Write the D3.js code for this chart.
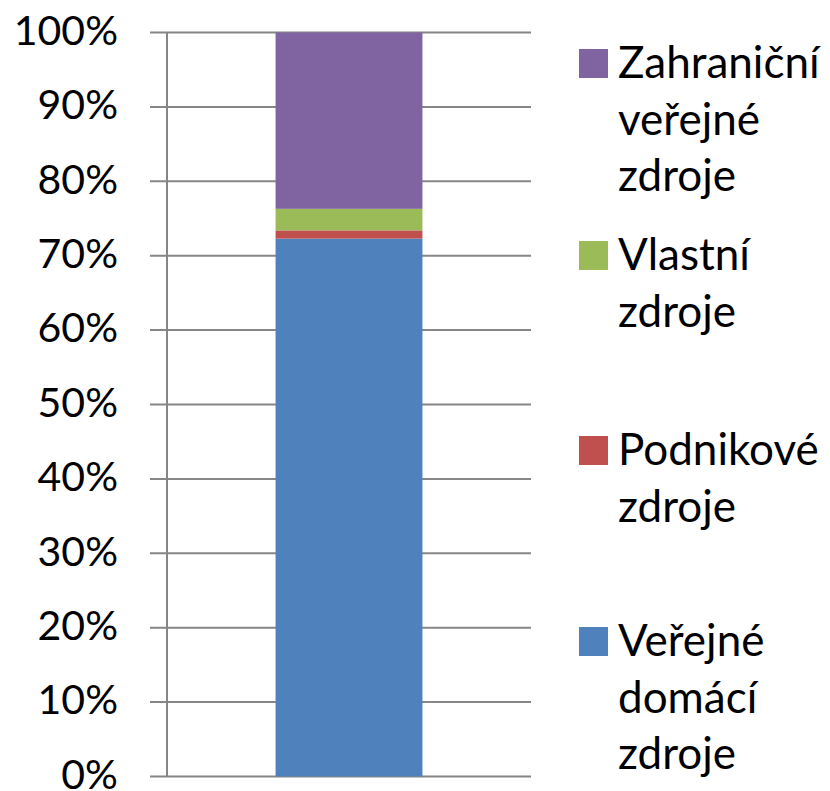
<!DOCTYPE html>
<html>
<head>
<meta charset="utf-8">
<script src="https://cdn.jsdelivr.net/npm/d3@7"></script>
<style>
  body { margin: 0; background: #fff; }
  svg { display: block; }
  text { font-family: Lato, "Open Sans", sans-serif; fill: #000; }
</style>
</head>
<body>
<div id="chart"></div>
<script>
// Series shares of a single stacked 100% bar (bottom to top)
const categories = ["Veřejné domácí zdroje", "Podnikové zdroje", "Vlastní zdroje", "Zahraniční veřejné zdroje"];
const values = [0.723, 0.011, 0.029, 0.237];
const colors = ["#4F81BD", "#C0504D", "#9BBB59", "#8064A2"];
const legendLines = [
    ["Veřejné", "domácí", "zdroje"],
    ["Podnikové", "zdroje"],
    ["Vlastní", "zdroje"],
    ["Zahraniční", "veřejné", "zdroje"]
];
const tickValues = [0, 0.1, 0.2, 0.3, 0.4, 0.5, 0.6, 0.7, 0.8, 0.9, 1];

const config = {
    width: 830,
    height: 791,
    margin: { top: 32.5, right: 299, bottom: 14.5, left: 167 }
};

const innerW = config.width - config.margin.left - config.margin.right;
const innerH = config.height - config.margin.top - config.margin.bottom;

const svg = d3.select("#chart").append("svg")
    .attr("width", config.width)
    .attr("height", config.height);

const chart = svg.append("g")
    .attr("transform", `translate(${config.margin.left},${config.margin.top})`);

const yScale = d3.scaleLinear().domain([0, 1]).range([innerH, 0]);
const xScale = d3.scaleBand().domain(["all"]).range([0, innerW]).padding(0.425);

// Gridlines with outside tick marks
chart.selectAll(".grid")
    .data(tickValues)
    .join("line")
    .attr("class", "grid")
    .attr("x1", -17)
    .attr("x2", innerW)
    .attr("y1", d => yScale(d))
    .attr("y2", d => yScale(d))
    .attr("stroke", "#868686")
    .attr("stroke-width", 2);

// Stacked segments
const row = {};
categories.forEach((c, i) => row[c] = values[i]);
const stacked = d3.stack().keys(categories)([row]);

chart.selectAll(".segment")
    .data(stacked)
    .join("rect")
    .attr("class", "segment")
    .attr("x", xScale("all"))
    .attr("width", xScale.bandwidth())
    .attr("y", d => yScale(d[0][1]))
    .attr("height", d => yScale(d[0][0]) - yScale(d[0][1]))
    .attr("fill", (d, i) => colors[i]);

// Vertical axis line
chart.append("line")
    .attr("x1", 0).attr("x2", 0)
    .attr("y1", 0).attr("y2", innerH)
    .attr("stroke", "#868686")
    .attr("stroke-width", 2);

// Y tick labels
chart.selectAll(".tick-label")
    .data(tickValues)
    .join("text")
    .attr("class", "tick-label")
    .attr("x", -49)
    .attr("y", d => yScale(d))
    .attr("dy", "0.3em")
    .attr("text-anchor", "end")
    .style("font-size", "41px")
    .text(d3.format(".0%"));

// Legend (top item is the last series)
const legendTops = [627, 436, 241, 49];
const lineH = 56.5;
const legend = svg.append("g").attr("class", "legend");
const items = legend.selectAll(".item")
    .data(categories)
    .join("g")
    .attr("class", "item")
    .attr("transform", (d, i) => `translate(579,${legendTops[i]})`);

items.append("rect")
    .attr("width", 29)
    .attr("height", 29)
    .attr("fill", (d, i) => colors[i]);

items.append("text")
    .attr("x", 39)
    .attr("y", 29)
    .style("font-size", "44px")
    .selectAll("tspan")
    .data((d, i) => legendLines[i])
    .join("tspan")
    .attr("x", 39)
    .attr("dy", (d, j) => j === 0 ? 0 : lineH)
    .text(d => d);
</script>
</body>
</html>
